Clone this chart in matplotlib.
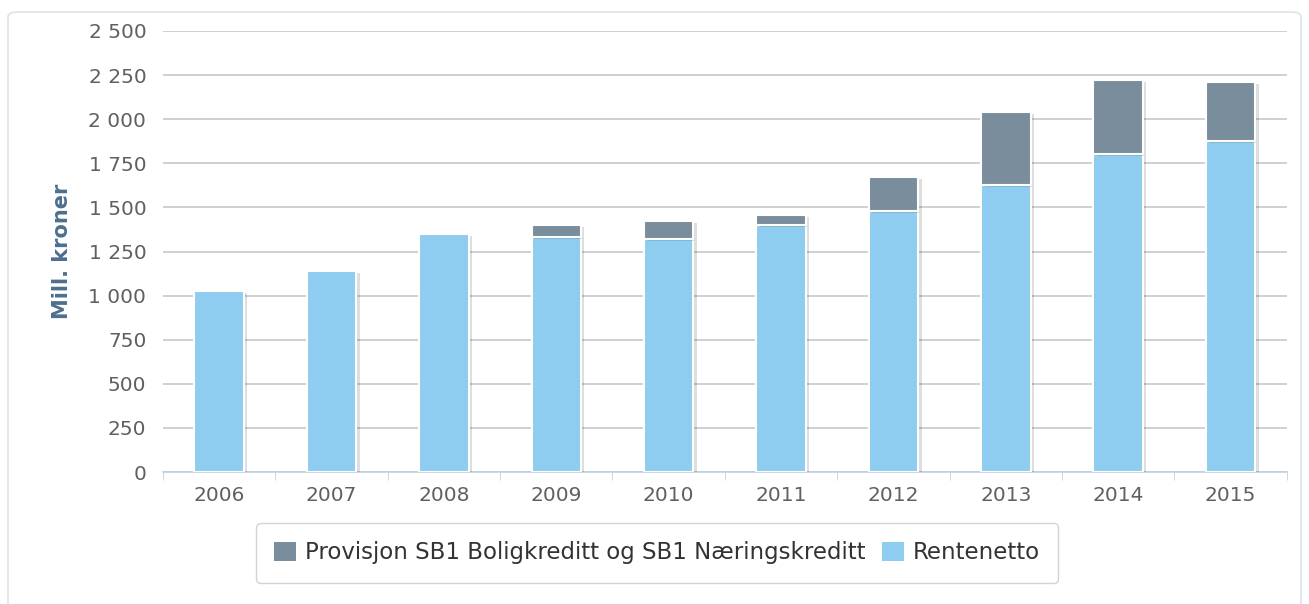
import numpy as np
import matplotlib
matplotlib.use('Agg')
import matplotlib.pyplot as plt
import matplotlib.patheffects as pe
from matplotlib.patches import FancyBboxPatch
from matplotlib.ticker import FuncFormatter, MultipleLocator

# data (mill. kroner)
years = ['2006', '2007', '2008', '2009', '2010', '2011', '2012', '2013', '2014', '2015']
rentenetto = [1028, 1142, 1347, 1334, 1322, 1402, 1481, 1629, 1801, 1879]
provisjon = [0, 0, 0, 68, 103, 57, 194, 412, 422, 332]

label_prov = 'Provisjon SB1 Boligkreditt og SB1 Næringskreditt'
label_rente = 'Rentenetto'

c_blue = '#8ecdef'
c_gray = '#7a8d9c'

plt.rcParams['font.family'] = ['DejaVu Sans']

fig = plt.figure(figsize=(13.09, 6.04), dpi=100)
ax = fig.add_axes([0.1245, 0.2185, 0.8585, 0.7302])

# outer frame
frame = FancyBboxPatch((8 / 1309, -0.05), 1293 / 1309, 1.05 - 12 / 604,
                       boxstyle='round,pad=0,rounding_size=0.008',
                       transform=fig.transFigure, facecolor='white',
                       edgecolor='#dde3ea', lw=1.2, zorder=-10)
fig.patches.append(frame)

x = np.arange(len(years))
shadow = [pe.SimplePatchShadow(offset=(2.5, -1.5), alpha=0.13, shadow_rgbFace='k'), pe.Normal()]

ax.bar(x, rentenetto, width=0.44, color=c_blue, edgecolor='white', lw=1.5,
       label=label_rente, zorder=3, path_effects=shadow)
prov = np.array(provisjon)
bottoms = np.array(rentenetto)
mask = prov > 0
ax.bar(x[mask], prov[mask], bottom=bottoms[mask], width=0.44, color=c_gray,
       edgecolor='white', lw=1.5, label=label_prov, zorder=3, path_effects=shadow)

ax.set_xlim(-0.5, len(years) - 0.5)
ax.set_ylim(0, 2500)
ax.yaxis.set_major_locator(MultipleLocator(250))
ax.yaxis.set_major_formatter(FuncFormatter(lambda v, p: f'{int(v):,}'.replace(',', ' ')))
ax.grid(axis='y', color='#c4c4c4', lw=1.1, zorder=0)
ax.set_axisbelow(True)

ax.set_xticks(x)
ax.set_xticklabels(years)
ax.set_xticks(np.arange(len(years) + 1) - 0.5, minor=True)
ax.tick_params(axis='x', which='major', length=0, pad=10, labelsize=14.5, labelcolor='#606060')
ax.tick_params(axis='x', which='minor', length=6, color='#c0d0e0')
ax.tick_params(axis='y', length=0, pad=12, labelsize=14.5, labelcolor='#606060')

for s in ['top', 'right', 'left']:
    ax.spines[s].set_visible(False)
ax.spines['bottom'].set_color('#c0d0e0')
ax.spines['bottom'].set_linewidth(1.2)

ax.set_ylabel('Mill. kroner', fontsize=15, fontweight='bold', color='#4d6f8f', labelpad=12)

handles, labels = ax.get_legend_handles_labels()
leg = fig.legend(handles[::-1], labels[::-1], loc='center', bbox_to_anchor=(0.502, 0.0845),
                 ncol=2, fontsize=16.5, frameon=True, fancybox=True, edgecolor='#c8c8c8',
                 handlelength=0.95, handleheight=0.95, handletextpad=0.4, columnspacing=0.7,
                 borderpad=0.8, borderaxespad=0, labelcolor='#333333')
leg.get_frame().set_linewidth(1.0)
for h in leg.legend_handles:
    h.set_edgecolor('none')
    h.set_path_effects([])

fig.savefig('out.png', dpi=100)
